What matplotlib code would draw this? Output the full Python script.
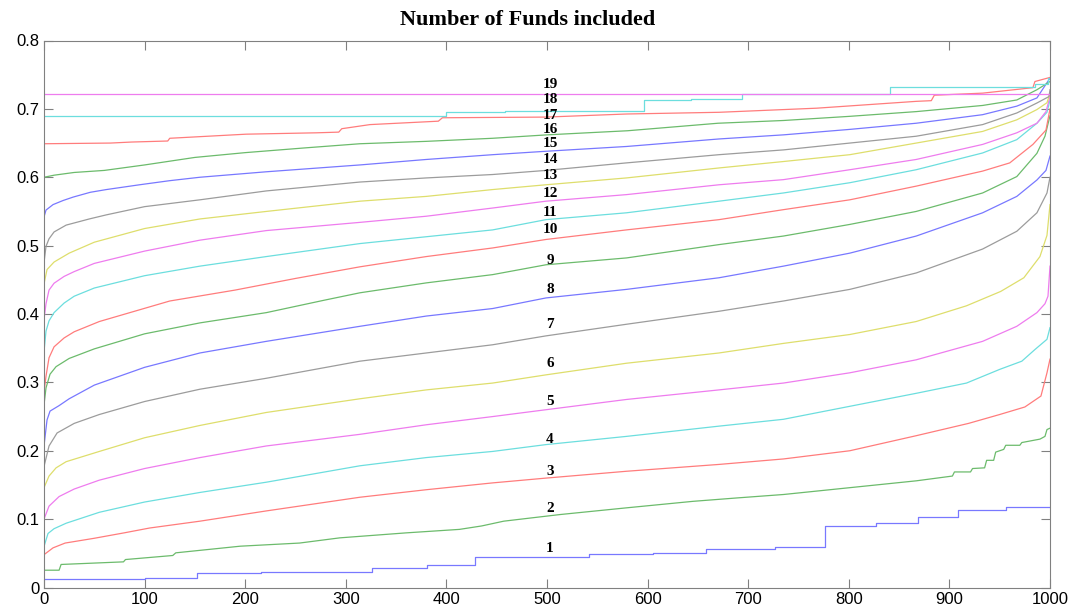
import matplotlib
matplotlib.use("Agg")
import matplotlib.pyplot as plt

# values, one sorted curve per number of funds
x1 = [0, 100, 152, 216, 326, 381, 428, 542, 605, 658, 727, 776, 827, 869, 909, 956, 1000]
y1 = [0.0127, 0.0137, 0.0214, 0.0229, 0.0292, 0.0326, 0.0449, 0.0497, 0.0507, 0.057,
      0.0595, 0.0897, 0.0945, 0.103, 0.113, 0.118, 0.118]

x2 = [0, 15, 17, 79, 81, 128, 131, 195, 254, 294, 360, 413, 435, 457, 480, 513, 579, 645,
      689, 735, 768, 801, 834, 867, 903, 905, 921, 923, 935, 937, 944, 946, 954, 956, 970,
      972, 990, 995, 997, 1000]
y2 = [0.0253, 0.0253, 0.0337, 0.0375, 0.0409, 0.0468, 0.0507, 0.0604, 0.065, 0.0726,
      0.0799, 0.085, 0.090, 0.097, 0.101, 0.1067, 0.1165, 0.126, 0.131, 0.136, 0.141, 0.146,
      0.151, 0.156, 0.163, 0.169, 0.169, 0.174, 0.175, 0.186, 0.186, 0.198, 0.202, 0.208,
      0.208, 0.212, 0.217, 0.221, 0.231, 0.233]

x3 = [0, 9, 21, 50, 80, 105, 155, 221, 314, 380, 446, 499, 579, 671, 735, 801, 867, 919,
      950, 975, 991, 997, 1000]
y3 = [0.048, 0.058, 0.065, 0.072, 0.080, 0.087, 0.097, 0.112, 0.132, 0.143, 0.153, 0.160,
      0.170, 0.180, 0.188, 0.200, 0.222, 0.240, 0.253, 0.264, 0.280, 0.314, 0.334]

x4 = [0, 4, 10, 22, 55, 100, 155, 221, 314, 380, 446, 499, 579, 671, 735, 801, 867, 917,
      950, 972, 985, 997, 1000]
y4 = [0.060, 0.079, 0.086, 0.094, 0.110, 0.125, 0.139, 0.154, 0.178, 0.190, 0.199, 0.209,
      0.221, 0.236, 0.246, 0.265, 0.284, 0.299, 0.319, 0.331, 0.348, 0.363, 0.380]

x5 = [0, 5, 15, 30, 55, 100, 155, 221, 314, 380, 446, 499, 579, 671, 735, 801, 867, 933,
      967, 987, 995, 998, 1000]
y5 = [0.100, 0.119, 0.133, 0.144, 0.157, 0.174, 0.190, 0.207, 0.224, 0.238, 0.250, 0.260,
      0.275, 0.289, 0.299, 0.314, 0.333, 0.360, 0.382, 0.402, 0.415, 0.426, 0.470]

x6 = [0, 5, 12, 22, 55, 100, 155, 221, 314, 380, 446, 499, 579, 671, 735, 801, 867, 917,
      951, 974, 990, 997, 1000]
y6 = [0.146, 0.163, 0.175, 0.184, 0.199, 0.219, 0.237, 0.256, 0.276, 0.289, 0.299, 0.311,
      0.328, 0.343, 0.357, 0.370, 0.389, 0.412, 0.433, 0.453, 0.484, 0.515, 0.560]

x7 = [0, 5, 13, 30, 55, 100, 155, 221, 314, 380, 446, 499, 579, 671, 735, 801, 867, 933,
      967, 987, 997, 1000]
y7 = [0.177, 0.207, 0.226, 0.240, 0.253, 0.272, 0.290, 0.306, 0.331, 0.343, 0.355, 0.368,
      0.385, 0.404, 0.419, 0.436, 0.460, 0.495, 0.521, 0.548, 0.577, 0.600]

x8 = [0, 3, 6, 15, 25, 50, 100, 155, 221, 314, 380, 446, 499, 579, 671, 735, 801, 867, 933,
      967, 987, 996, 1000]
y8 = [0.207, 0.245, 0.258, 0.266, 0.276, 0.296, 0.322, 0.343, 0.360, 0.382, 0.397, 0.408,
      0.4235, 0.436, 0.453, 0.470, 0.489, 0.514, 0.548, 0.572, 0.596, 0.610, 0.631]

x9 = [0, 2, 6, 12, 25, 50, 100, 155, 221, 278, 314, 380, 446, 499, 579, 671, 735, 801, 867,
      933, 967, 987, 995, 1000]
y9 = [0.267, 0.292, 0.312, 0.323, 0.335, 0.349, 0.371, 0.387, 0.402, 0.420, 0.431, 0.4455,
      0.4576, 0.472, 0.482, 0.5015, 0.514, 0.531, 0.550, 0.577, 0.601, 0.635, 0.660, 0.690]

x10 = [0, 2, 5, 10, 20, 30, 55, 90, 125, 190, 250, 314, 380, 446, 499, 579, 671, 735, 801,
       867, 933, 960, 983, 996, 1000]
y10 = [0.286, 0.309, 0.336, 0.352, 0.365, 0.374, 0.389, 0.404, 0.419, 0.435, 0.452, 0.469,
       0.484, 0.4966, 0.509, 0.523, 0.538, 0.5526, 0.567, 0.587, 0.609, 0.621, 0.648, 0.669,
       0.700]

x11 = [0, 2, 5, 10, 20, 30, 50, 100, 155, 221, 314, 380, 446, 499, 579, 671, 735, 801, 867,
       933, 967, 987, 997, 1000]
y11 = [0.345, 0.375, 0.390, 0.402, 0.416, 0.426, 0.438, 0.456, 0.470, 0.484, 0.503, 0.513,
       0.523, 0.538, 0.548, 0.565, 0.577, 0.592, 0.611, 0.6355, 0.655, 0.679, 0.695, 0.713]

x12 = [0, 2, 5, 10, 20, 30, 50, 100, 155, 221, 314, 380, 446, 499, 579, 671, 735, 801, 867,
       933, 967, 987, 996, 1000]
y12 = [0.392, 0.415, 0.435, 0.445, 0.455, 0.462, 0.474, 0.492, 0.508, 0.522, 0.534, 0.543,
       0.555, 0.565, 0.5746, 0.589, 0.5965, 0.611, 0.626, 0.648, 0.665, 0.679, 0.696, 0.718]

x13 = [0, 3, 10, 25, 50, 100, 155, 221, 314, 380, 446, 499, 579, 671, 735, 801, 867, 933,
       967, 987, 997, 1000]
y13 = [0.444, 0.465, 0.476, 0.489, 0.505, 0.525, 0.539, 0.550, 0.565, 0.572, 0.582, 0.589,
       0.599, 0.6136, 0.623, 0.633, 0.650, 0.667, 0.684, 0.699, 0.709, 0.723]

x14 = [0, 2, 5, 10, 22, 45, 62, 100, 155, 221, 314, 380, 446, 499, 579, 671, 735, 801, 867,
       933, 967, 987, 999, 1000]
y14 = [0.475, 0.499, 0.510, 0.520, 0.530, 0.539, 0.545, 0.557, 0.567, 0.580, 0.593, 0.599,
       0.604, 0.610, 0.621, 0.633, 0.640, 0.650, 0.660, 0.677, 0.694, 0.7086, 0.718, 0.728]

x15 = [0, 2, 9, 19, 29, 46, 62, 95, 125, 155, 221, 314, 380, 446, 499, 579, 671, 735, 801,
       867, 933, 967, 987, 1000]
y15 = [0.542, 0.552, 0.560, 0.566, 0.571, 0.578, 0.582, 0.589, 0.595, 0.600, 0.608, 0.618,
       0.626, 0.633, 0.638, 0.645, 0.656, 0.662, 0.670, 0.679, 0.6915, 0.704, 0.716, 0.745]

x16 = [0, 10, 30, 60, 100, 150, 200, 260, 314, 380, 446, 500, 580, 670, 735, 800, 867, 933,
       967, 987, 1000]
y16 = [0.600, 0.603, 0.607, 0.610, 0.618, 0.629, 0.636, 0.643, 0.649, 0.6525, 0.657, 0.662,
       0.668, 0.679, 0.683, 0.689, 0.696, 0.705, 0.713, 0.728, 0.740]

x17 = [0, 66, 87, 123, 125, 201, 271, 293, 296, 324, 392, 396, 499, 579, 671, 768, 867, 882,
       885, 933, 983, 985, 1000]
y17 = [0.649, 0.650, 0.6515, 0.653, 0.657, 0.663, 0.665, 0.666, 0.671, 0.677, 0.682, 0.687,
       0.688, 0.6925, 0.695, 0.701, 0.711, 0.712, 0.720, 0.723, 0.731, 0.740, 0.746]

x18 = [0, 281, 400, 458, 596, 643, 694, 841, 985, 998, 1000]
y18 = [0.689, 0.690, 0.695, 0.697, 0.713, 0.715, 0.722, 0.732, 0.737, 0.745, 0.745]

x19 = [0, 1000]
y19 = [0.722, 0.722]

curve_labels = [str(i) for i in range(1, 20)]
label_x = 503
label_y = [0.057, 0.115, 0.170, 0.217, 0.272, 0.328, 0.384, 0.436, 0.478, 0.523,
           0.548, 0.576, 0.602, 0.626, 0.649, 0.670, 0.691, 0.714, 0.735]

xs = [x1, x2, x3, x4, x5, x6, x7, x8, x9, x10, x11, x12, x13, x14, x15, x16, x17, x18, x19]
ys = [y1, y2, y3, y4, y5, y6, y7, y8, y9, y10, y11, y12, y13, y14, y15, y16, y17, y18, y19]

# old MATLAB colour order b g r c m y k, drawn pale as in the picture
colors = ['#7878ff', '#6cbb6c', '#ff7c7c', '#6cdede', '#ee7cee', '#dede6c', '#9c9c9c']
step_curves = {1, 18}

fig = plt.figure(figsize=(10.74, 6.15), dpi=100)
ax = fig.add_axes([44 / 1074, 27.5 / 615, 1006 / 1074, 547 / 615])

for i in range(19):
    ds = 'steps-post' if (i + 1) in step_curves else 'default'
    ax.plot(xs[i], ys[i], color=colors[i % 7], linewidth=0.9, drawstyle=ds)

for lab, ly in zip(curve_labels, label_y):
    ax.text(label_x, ly, lab, ha='center', va='center', fontsize=11,
            fontweight='bold', family='Liberation Serif')

ax.set_xlim(0, 1000)
ax.set_ylim(0, 0.8)
ax.set_xticks(range(0, 1001, 100))
ax.set_yticks([i / 10 for i in range(9)])
ax.set_yticklabels(['0', '0.1', '0.2', '0.3', '0.4', '0.5', '0.6', '0.7', '0.8'])

axis_grey = '#808080'
for sp in ax.spines.values():
    sp.set_color(axis_grey)
ax.tick_params(direction='in', length=6.5, width=0.8, color=axis_grey,
               top=True, right=True, labelsize=12, pad=3)
for t in ax.get_xticklabels() + ax.get_yticklabels():
    t.set_family('Liberation Sans')

fig.text(528 / 1074, 1 - 25 / 615, "Number of Funds included", ha='center',
         va='baseline', fontsize=16, fontweight='bold', family='Liberation Serif')

fig.savefig("out.png", dpi=100)
